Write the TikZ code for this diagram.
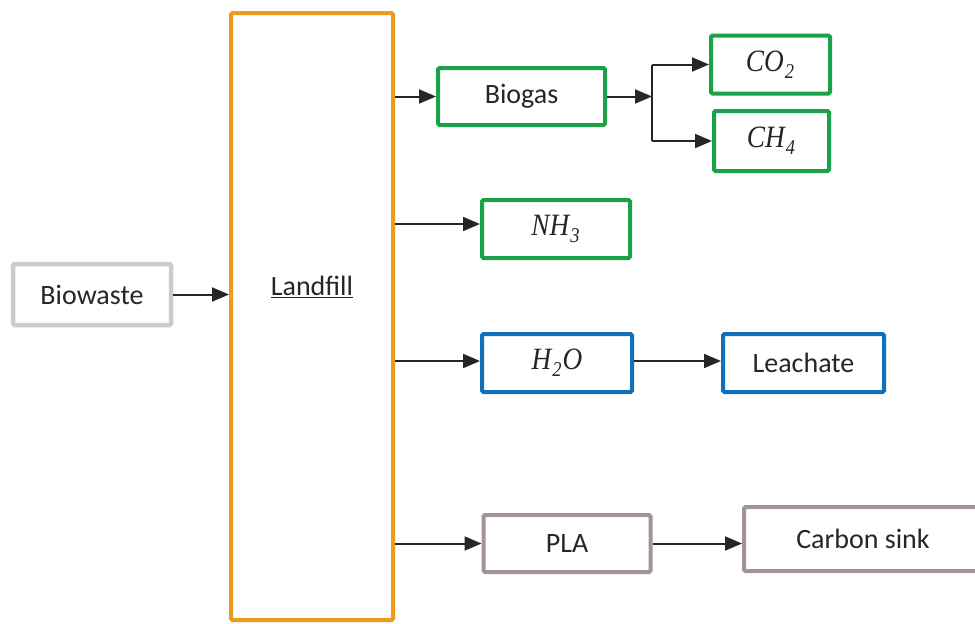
\documentclass[tikz,border=0pt]{standalone}
\usepackage{fontspec}
\setmainfont{Carlito}
\newfontfamily\chemfont[FakeStretch=0.88]{Liberation Serif}
\usetikzlibrary{arrows.meta}

% chemical formula pieces: italic serif letters, lowered small digits
\newcommand{\chemtxt}[1]{{\chemfont\itshape\fontsize{31}{34}\selectfont #1}}
\newcommand{\chemsub}[1]{\kern1pt\raisebox{-7pt}{\fontsize{21}{23}\selectfont #1}\kern1pt}

\definecolor{landorange}{RGB}{238,154,26}
\definecolor{gasgreen}{RGB}{28,160,72}
\definecolor{waterblue}{RGB}{17,112,187}
\definecolor{plagray}{RGB}{160,148,148}
\definecolor{wastegray}{RGB}{208,203,203}
\definecolor{inkdark}{RGB}{38,38,38}

\begin{document}
\begin{tikzpicture}[x=1pt,y=-1pt,
  every node/.style={text=inkdark, font=\fontsize{28}{32}\selectfont},
  boxbase/.style={draw, line width=4pt, rounded corners=1.5pt, fill=white,
                  inner sep=0pt, anchor=center},
  greenbox/.style={boxbase, draw=gasgreen},
  bluebox/.style={boxbase, draw=waterblue},
  graybox/.style={boxbase, draw=plagray},
  arr/.style={draw=inkdark, line width=2pt,
              -{Triangle[length=17pt,width=14pt]}},
  link/.style={draw=inkdark, line width=2pt}]

\clip (0,0) rectangle (975,624);

% input and landfill
\node[boxbase, draw=wastegray, line width=4.5pt,
      minimum width=158pt, minimum height=61pt] (bio) at (92,294.5) {Biowaste};
\node[boxbase, draw=landorange, minimum width=162pt, minimum height=607pt]
      (land) at (312,316.5) {};
\node (landtxt) at (312,287) {\underline{Landfill}};

% products
\node[greenbox, minimum width=167pt, minimum height=57pt] (biogas) at (521.5,96.5) {Biogas};
\node[greenbox, minimum width=119pt, minimum height=58pt] (co2) at (770.5,64.5)
      {\chemtxt{CO\chemsub{2}}};
\node[greenbox, minimum width=115pt, minimum height=60pt] (ch4) at (771.5,141)
      {\chemtxt{CH\chemsub{4}}};
\node[greenbox, minimum width=148pt, minimum height=58pt] (nh3) at (556,229)
      {\chemtxt{NH\chemsub{3}}};
\node[bluebox, minimum width=150pt, minimum height=58pt] (h2o) at (557,363)
      {\chemtxt{H\chemsub{2}O}};
\node[bluebox, minimum width=161pt, minimum height=58pt] (leach) at (803.5,363) {Leachate};
\node[graybox, minimum width=167pt, minimum height=57pt] (pla) at (567,543.5) {PLA};
\node[graybox, minimum width=238pt, minimum height=64pt] (cs) at (863,539) {Carbon sink};

% connectors
\draw[arr] (bio.east) -- (land.west |- bio.east);
\draw[arr] (land.east |- biogas.west) -- (biogas.west);
\draw[arr] (land.east |- {(0,224)}) -- (nh3.west |- {(0,224)});
\draw[arr] (land.east |- {(0,361)}) -- (h2o.west |- {(0,361)});
\draw[arr] (land.east |- pla.west) -- (pla.west);

% biogas split
\coordinate (split) at (652,96.5);
\draw[arr] (biogas.east) -- (split);
\draw[link] (split |- co2.west) -- (split |- ch4.west);
\draw[arr] (split |- co2.west) -- (co2.west);
\draw[arr] (split |- ch4.west) -- (ch4.west);

\draw[arr] (h2o.east |- {(0,361)}) -- (leach.west |- {(0,361)});
\draw[arr] (pla.east) -- (cs.west |- pla.east);
\end{tikzpicture}
\end{document}
